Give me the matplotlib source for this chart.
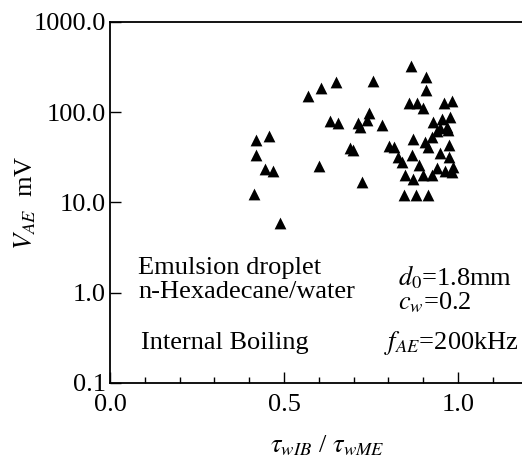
import matplotlib
matplotlib.use('Agg')
import matplotlib.pyplot as plt
from matplotlib.ticker import FixedLocator, MultipleLocator, FuncFormatter

plt.rcParams['font.family'] = 'Liberation Serif'
plt.rcParams['mathtext.fontset'] = 'stix'

# tau_wIB / tau_wME  and  V_AE [mV]
tau_ratio = [0.414, 0.419, 0.420, 0.445, 0.457, 0.469, 0.489, 0.570, 0.601, 0.605,
             0.632, 0.649, 0.656, 0.690, 0.697, 0.712, 0.718, 0.725, 0.738, 0.743,
             0.755, 0.782, 0.803, 0.816, 0.828, 0.838, 0.846, 0.848, 0.860, 0.864,
             0.867, 0.870, 0.870, 0.879, 0.883, 0.888, 0.899, 0.900, 0.905, 0.908,
             0.908, 0.913, 0.915, 0.924, 0.924, 0.929, 0.939, 0.939, 0.948, 0.948,
             0.953, 0.960, 0.963, 0.968, 0.972, 0.975, 0.975, 0.977, 0.982, 0.982,
             0.987]
v_ae = [12.3, 33.6, 49.3, 23.4, 54.8, 22.2, 5.97, 152, 25.5, 186,
        79.4, 216, 75.4, 40.5, 37.7, 75.4, 68.7, 17.0, 82.1, 98.2,
        220, 72.2, 42.0, 41.2, 31.8, 28.3, 12.1, 20.4, 125, 328,
        34.0, 50.6, 18.3, 12.1, 125, 26.0, 20.4, 111, 46.8, 243,
        176, 12.1, 41.5, 53.6, 20.4, 78.6, 62.5, 23.9, 66.4, 35.1,
        84.2, 126, 22.3, 69.2, 63.5, 43.4, 32.2, 89.3, 133, 22.0,
        24.9]

y_ticks = [0.1, 1, 10, 100, 1000]

fig = plt.figure(figsize=(5.22, 4.61), dpi=100)
ax = fig.add_axes([0.2107, 0.1692, 0.80, 0.7831])

ax.scatter(tau_ratio, v_ae, marker='^', s=72, color='black', linewidths=0, zorder=3)

ax.set_yscale('log')
ax.set_ylim(0.1, 1000)
ax.set_xlim(0, 1.2)
ax.yaxis.set_major_locator(FixedLocator(y_ticks))
ax.yaxis.set_minor_locator(FixedLocator([]))
ax.yaxis.set_major_formatter(FuncFormatter(lambda v, p: '%.1f' % v))
ax.xaxis.set_major_locator(MultipleLocator(0.5))
ax.xaxis.set_minor_locator(MultipleLocator(0.1))
ax.xaxis.set_major_formatter(FuncFormatter(lambda v, p: '%.1f' % v))

ax.spines['right'].set_visible(False)
for s in ['left', 'bottom', 'top']:
    ax.spines[s].set_linewidth(1.3)
ax.tick_params(which='major', direction='in', length=8, width=1, labelsize=19)
ax.tick_params(axis='y', which='major', pad=3)
ax.tick_params(axis='x', which='major', pad=8)
ax.tick_params(which='minor', direction='in', length=4, width=1)

ax.set_ylabel('$V_{AE}$  mV', fontsize=19, labelpad=-3)
ax.text(0.52, -0.175, r'$\tau_{wIB}$ / $\tau_{wME}$', transform=ax.transAxes,
        fontsize=19, ha='center', va='center')

ax.text(0.068, 0.318, 'Emulsion droplet', transform=ax.transAxes, fontsize=19, va='center')
ax.text(0.068, 0.253, 'n-Hexadecane/water', transform=ax.transAxes, fontsize=19, va='center')
ax.text(0.075, 0.112, 'Internal Boiling', transform=ax.transAxes, fontsize=19, va='center')
ax.text(0.690, 0.292, r'$d_{\mathit{0}}$=1.8mm', transform=ax.transAxes, fontsize=19, va='center')
ax.text(0.690, 0.222, '$c_w$=0.2', transform=ax.transAxes, fontsize=19, va='center')
ax.text(0.655, 0.112, '$f_{AE}$=200kHz', transform=ax.transAxes, fontsize=19, va='center')

plt.savefig('out.png', dpi=100)
